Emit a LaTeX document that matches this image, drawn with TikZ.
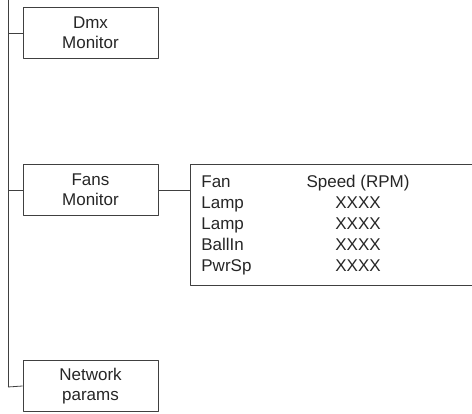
\documentclass[tikz,border=0pt]{standalone}
\usepackage{fontspec}
\setmainfont{Liberation Sans}
\begin{document}
\begin{tikzpicture}[x=1pt, y=-1pt, line width=0.8pt, line join=round,
    every node/.style={font=\fontsize{17}{20}\selectfont, text=black!85},
    menubox/.style={draw=black!75, minimum width=135pt, minimum height=51pt, align=center, inner sep=0pt},
    link/.style={draw=black!75}]
    \useasboundingbox (0,0) rectangle (472,414);
    % Trunk
    \coordinate (top) at (8,0);
    \coordinate (bot) at (8,387);
    \draw[link] (top)--(bot);
    % Menu boxes
    \node[menubox] (dmx) at (90.5,33) {Dmx\\Monitor};
    \node[menubox] (fans) at (90.5,190) {Fans\\Monitor};
    \node[menubox] (net) at (90.5,386) {Network\\params};
    \draw[link] (8,33)--(dmx.west);
    \draw[link] (8,190)--(fans.west);
    \draw[link] (bot)--(net.west);
    % Fan table
    \coordinate (tl) at (190,164);
    \coordinate (br) at (480,285);
    \draw[link] (tl) rectangle (br);
    \draw[link] (fans.east)--(190,190);
    \node[anchor=base west, inner sep=0pt] (fan) at (201,188) {Fan};
    \node[anchor=base, inner sep=0pt] (rpm) at (358,188) {Speed (RPM)};
    \foreach \name [count=\i] in {Lamp,Lamp,BallIn,PwrSp}{
        \node[anchor=base west, inner sep=0pt] (row\i) at (201,188+21*\i) {\name};
        \node[anchor=base, inner sep=0pt] (val\i) at (358,188+21*\i) {XXXX};
    }
\end{tikzpicture}
\end{document}
